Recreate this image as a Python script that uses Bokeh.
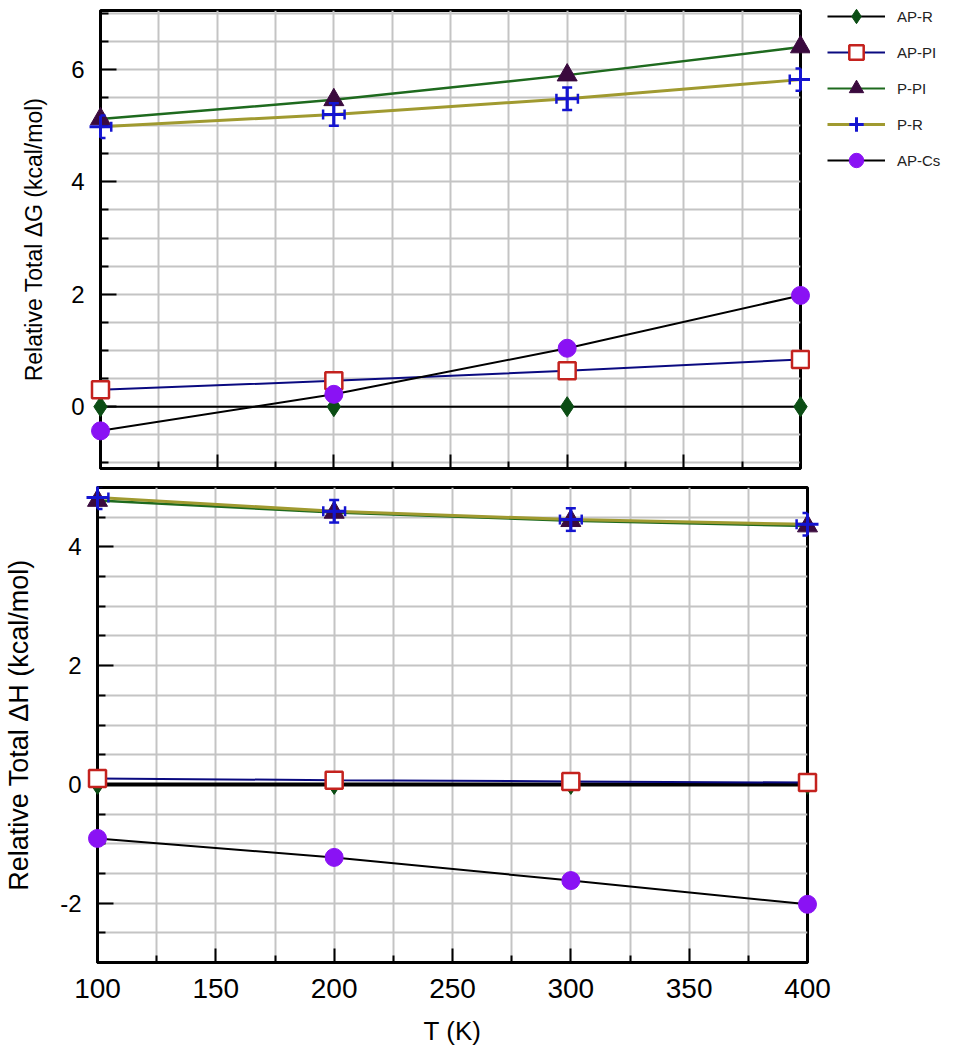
from bokeh.plotting import figure
from bokeh.models import (FixedTicker, Legend, LegendItem, Whisker, ColumnDataSource,
                          TeeHead, Range1d)
from bokeh.layouts import column, row
from bokeh.embed import file_html
from bokeh.resources import INLINE

# ---------------- data ----------------
T = [100, 200, 300, 400]
names = ["AP-R", "AP-PI", "P-PI", "P-R", "AP-Cs"]

dG_AP_R = [0.0, 0.0, 0.0, 0.0]
dG_AP_PI = [0.30, 0.46, 0.64, 0.84]
dG_P_PI = [5.12, 5.46, 5.90, 6.40]
dG_P_R = [4.98, 5.20, 5.48, 5.82]
dG_AP_Cs = [-0.43, 0.22, 1.04, 1.98]

dH_AP_R = [0.0, 0.0, 0.0, 0.0]
dH_AP_PI = [0.10, 0.07, 0.05, 0.03]
dH_P_PI = [4.78, 4.58, 4.44, 4.35]
dH_P_R = [4.83, 4.60, 4.46, 4.38]
dH_AP_Cs = [-0.91, -1.23, -1.62, -2.02]

x_major = [100, 150, 200, 250, 300, 350, 400]
x_minor = [125, 175, 225, 275, 325, 375]
dG_major = [0, 2, 4, 6]
dG_minor = [-1, -0.5, 0.5, 1, 1.5, 2.5, 3, 3.5, 4.5, 5, 5.5, 6.5, 7]
dH_major = [-2, 0, 2, 4]
dH_minor = [-3, -2.5, -1.5, -1, -0.5, 0.5, 1, 1.5, 2.5, 3, 3.5, 4.5, 5]

FONT = "Liberation Sans"
GRID = "#c4c4c4"

styles = {
    "AP-R":  dict(line="#000000", lw=2, marker="diamond", size=20, fill="#0b4d14", mline="#0b4d14", mlw=1),
    "AP-PI": dict(line="#0a0a80", lw=2, marker="square", size=17, fill="#ffffff", mline="#c4221e", mlw=2.5),
    "P-PI":  dict(line="#1e6a1e", lw=2.5, marker="triangle", size=20, fill="#3a0a3e", mline="#3a0a3e", mlw=1),
    "P-R":   dict(line="#a09a30", lw=3, marker="cross", size=22, fill="#1414d0", mline="#1414d0", mlw=3),
    "AP-Cs": dict(line="#000000", lw=2, marker="circle", size=18, fill="#8a12f4", mline="#8a12f4", mlw=1),
}


def style_axes(p, major_y, minor_y, show_x_labels):
    p.xaxis.ticker = FixedTicker(ticks=x_major, minor_ticks=x_minor)
    p.yaxis.ticker = FixedTicker(ticks=major_y, minor_ticks=minor_y)
    p.yaxis.major_label_overrides = {v: str(v) for v in major_y}
    for ax in (p.xaxis[0], p.yaxis[0]):
        ax.axis_line_color = "black"
        ax.axis_line_width = 3
        ax.major_tick_line_color = "black"
        ax.minor_tick_line_color = "black"
        ax.major_tick_line_width = 2
        ax.minor_tick_line_width = 2
        ax.major_tick_out = 0
        ax.minor_tick_out = 0
        ax.major_label_text_font = FONT
        ax.axis_label_text_font = FONT
        ax.axis_label_text_font_style = "normal"
        ax.major_label_text_color = "black"
        ax.axis_label_text_color = "black"
    p.xaxis.major_tick_in = 14
    p.xaxis.minor_tick_in = 7
    p.yaxis.major_tick_in = 16
    p.yaxis.minor_tick_in = 8
    p.yaxis.major_label_text_font_size = "24px"
    p.yaxis.major_label_standoff = 16
    if show_x_labels:
        p.xaxis.major_label_text_font_size = "28px"
        p.xaxis.major_label_standoff = 16
    else:
        p.xaxis.major_label_overrides = {t: "" for t in x_major}
        p.xaxis.major_label_text_font_size = "1px"
        p.xaxis.major_label_standoff = 0
    for g in (p.xgrid[0], p.ygrid[0]):
        g.grid_line_color = GRID
        g.grid_line_width = 2
        g.minor_grid_line_color = GRID
        g.minor_grid_line_width = 2
    p.outline_line_color = "black"
    p.outline_line_width = 3
    p.outline_line_alpha = 1.0
    p.background_fill_color = "white"
    p.border_fill_color = "white"
    p.frame_align = False


def draw_series(p, data, whisk_dy, whisk_dx, base_lw):
    for name in names:
        st = styles[name]
        vals = data[name]
        src = ColumnDataSource(dict(x=T, y=vals))
        lw = base_lw if name == "AP-R" else st["lw"]
        p.line("x", "y", source=src, line_color=st["line"], line_width=lw)
        p.scatter("x", "y", source=src, marker=st["marker"], size=st["size"],
                  fill_color=st["fill"], line_color=st["mline"], line_width=st["mlw"],
                  level="overlay")
        if name == "P-R":
            wsrc = ColumnDataSource(dict(
                x=T, y=vals,
                ylo=[v - whisk_dy for v in vals], yhi=[v + whisk_dy for v in vals],
                xlo=[t - whisk_dx for t in T], xhi=[t + whisk_dx for t in T]))
            col = st["fill"]
            w1 = Whisker(base="x", lower="ylo", upper="yhi", source=wsrc, dimension="height",
                         line_color=col, line_width=2.5, level="overlay",
                         upper_head=TeeHead(size=10, line_color=col, line_width=2.5),
                         lower_head=TeeHead(size=10, line_color=col, line_width=2.5))
            w2 = Whisker(base="y", lower="xlo", upper="xhi", source=wsrc, dimension="width",
                         line_color=col, line_width=2.5, level="overlay",
                         upper_head=TeeHead(size=10, line_color=col, line_width=2.5),
                         lower_head=TeeHead(size=10, line_color=col, line_width=2.5))
            p.add_layout(w1)
            p.add_layout(w2)


dG = {"AP-R": dG_AP_R, "AP-PI": dG_AP_PI, "P-PI": dG_P_PI, "P-R": dG_P_R, "AP-Cs": dG_AP_Cs}
dH = {"AP-R": dH_AP_R, "AP-PI": dH_AP_PI, "P-PI": dH_P_PI, "P-R": dH_P_R, "AP-Cs": dH_AP_Cs}

# ---------------- top panel (ΔG) ----------------
p1 = figure(width=810, height=478, x_range=Range1d(100, 400), y_range=Range1d(-1.1, 7.05),
            output_backend="svg", toolbar_location=None,
            min_border_left=100, min_border_right=10, min_border_top=10, min_border_bottom=10)
style_axes(p1, dG_major, dG_minor, False)
p1.yaxis.axis_label = "Relative Total ΔG (kcal/mol)"
p1.yaxis.axis_label_text_font_size = "23px"
p1.yaxis.axis_label_standoff = 21
draw_series(p1, dG, 0.2, 4.6, 2)

# ---------------- legend panel (beside the top panel) ----------------
p3 = figure(width=159, height=478, x_range=Range1d(0, 1), y_range=Range1d(0, 1),
            output_backend="svg", toolbar_location=None, x_axis_type=None, y_axis_type=None,
            min_border=0, outline_line_color=None)
p3.xgrid.visible = False
p3.ygrid.visible = False
p3.frame_align = False
items = []
for name in names:
    st = styles[name]
    # renderers carry the real series but lie outside this panel's ranges,
    # so only their legend glyphs are seen
    src = ColumnDataSource(dict(x=T, y=dG[name]))
    lr = p3.line("x", "y", source=src, line_color=st["line"], line_width=2 if name != "P-R" else 3)
    sr = p3.scatter("x", "y", source=src, marker=st["marker"], size=st["size"],
                    fill_color=st["fill"], line_color=st["mline"], line_width=st["mlw"])
    items.append(LegendItem(label=name, renderers=[lr, sr]))
legend = Legend(items=items, location=(17, 300), border_line_color=None,
                background_fill_alpha=0, glyph_width=58, glyph_height=36, spacing=0,
                label_standoff=12, padding=0, margin=0,
                label_text_font=FONT, label_text_font_size="15px", label_text_color="#222222")
p3.add_layout(legend)

# ---------------- bottom panel (ΔH) ----------------
p2 = figure(width=969, height=570, x_range=Range1d(100, 400), y_range=Range1d(-3, 5),
            output_backend="svg", toolbar_location=None,
            min_border_left=97, min_border_right=162, min_border_top=9, min_border_bottom=86)
style_axes(p2, dH_major, dH_minor, True)
p2.yaxis.axis_label = "Relative Total ΔH (kcal/mol)"
p2.yaxis.axis_label_text_font_size = "27px"
p2.yaxis.axis_label_standoff = 23
p2.xaxis.axis_label = "T (K)"
p2.xaxis.axis_label_text_font_size = "26px"
p2.xaxis.axis_label_standoff = 15
draw_series(p2, dH, 0.19, 4.6, 4)

layout = column(row(p1, p3), p2)
open("out.html", "w").write(file_html(layout, INLINE))
